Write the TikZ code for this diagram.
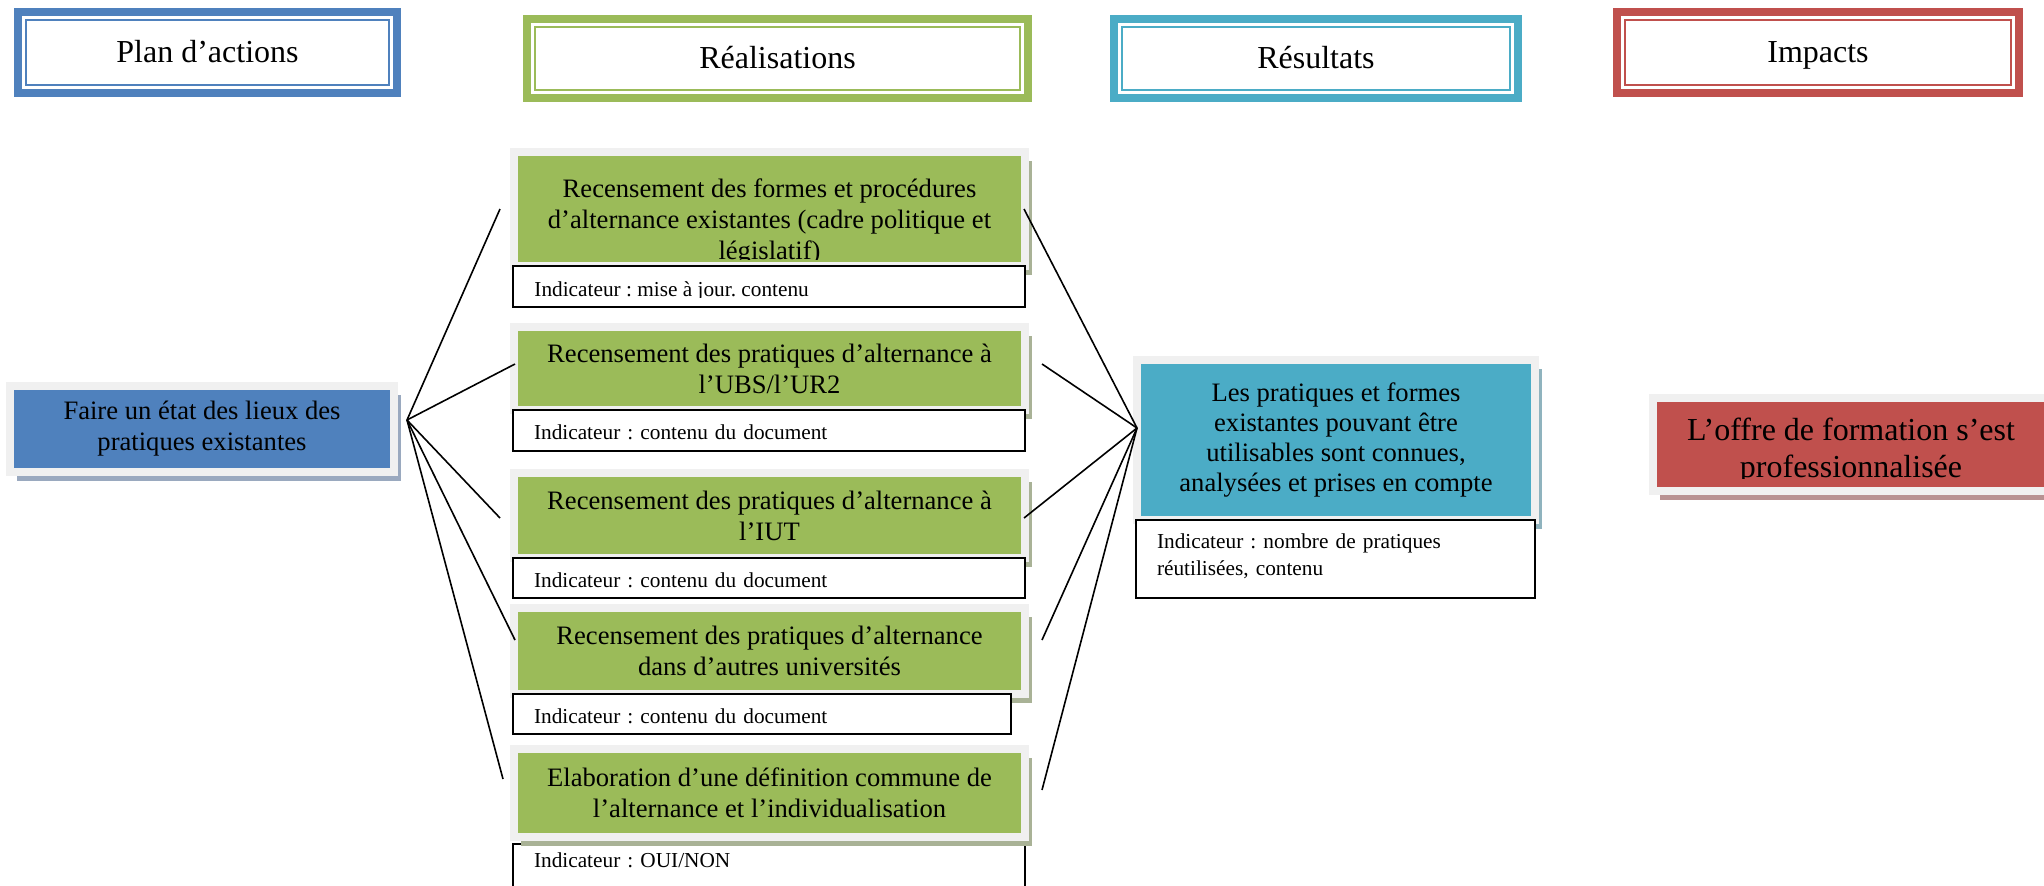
\documentclass[tikz,border=0pt]{standalone}
\usepackage{fontspec}
\setmainfont{Liberation Serif}
\usetikzlibrary{shadows}
\frenchspacing

% Office colours
\definecolor{planblue}{HTML}{4F81BD}
\definecolor{realgreen}{HTML}{9BBB59}
\definecolor{resultcyan}{HTML}{4BACC6}
\definecolor{impactred}{HTML}{C0504D}
\definecolor{framegray}{HTML}{F0F0F0}
\definecolor{shadowblue}{HTML}{9AA9BF}
\definecolor{shadowgreen}{HTML}{A9B296}
\definecolor{shadowcyan}{HTML}{8FB3BE}
\definecolor{shadowred}{HTML}{B89292}

\newcommand{\headfont}{\fontsize{16}{18.5}\selectfont}
\newcommand{\bodyfont}{\fontsize{13.3}{15.5}\selectfont}
\newcommand{\indfont}{\fontsize{10.65}{13.5}\selectfont}

\begin{document}
\begin{tikzpicture}[x=0.5pt, y=-0.5pt,
    headbox/.style={draw=#1, line width=1.25pt, fill=white, font=\headfont,
        inner sep=0pt, text height=11pt, text depth=1pt,
        preaction={draw=#1, line width=12pt},
        preaction={draw=white, line width=4pt}},
    colbox/.style 2 args={fill=#1, draw=framegray, line width=4pt,
        inner sep=0pt, align=center, font=\bodyfont,
        drop shadow={shadow xshift=3.5pt, shadow yshift=-4.5pt,
            fill=#2, opacity=1}},
    greenbox/.style={colbox={realgreen}{shadowgreen}, minimum width=255.5pt},
    indbox/.style={draw=black, line width=0.8pt, fill=white,
        anchor=north west, outer sep=0pt, inner xsep=10.5pt,
        inner ysep=0pt, align=left, font=\indfont, text height=14.5pt},
    fan/.style={line width=0.8pt}]

    \useasboundingbox (0,0) rectangle (2044,885);

    % Column headers
    \node[headbox=planblue, minimum width=181.5pt, minimum height=32.5pt] (plan) at (207.5,52.5) {Plan d’actions};
    \node[headbox=realgreen, minimum width=242.5pt, minimum height=31.5pt] (real) at (777.5,58.5) {Réalisations};
    \node[headbox=resultcyan, minimum width=194pt, minimum height=31.5pt] (result) at (1316,58.5) {Résultats};
    \node[headbox=impactred, minimum width=193pt, minimum height=32.5pt] (impact) at (1818,52.5) {Impacts};

    % Plan d'actions
    \node[colbox={planblue}{shadowblue}, minimum width=192pt, minimum height=43pt] (action) at (202,429)
        {Faire un état des lieux des\\pratiques existantes};

    % Realisations (the first text is too long, it is cut at the bottom)
    \node[greenbox, minimum height=57pt] (real1) at (769.5,209) {};
    \begin{scope}
        \clip (518,156) rectangle (1021,259);
        \node[anchor=north, inner sep=0pt, align=center, font=\bodyfont] (real1txt) at (769.5,178)
            {Recensement des formes et procédures\\d’alternance existantes (cadre politique et\\législatif)};
    \end{scope}
    \node[indbox, text width=235pt, text depth=6pt] (ind1) at (513,266) {};
    \begin{scope}
        \clip (513,266) rectangle (1025,297.5);
        \node[anchor=base west, inner sep=0pt, font=\indfont] (ind1txt) at (534,296) {Indicateur : mise à jour. contenu};
    \end{scope}

    \node[greenbox, minimum height=41.5pt] (real2) at (769.5,368.5)
        {Recensement des pratiques d’alternance à\\l’UBS/l’UR2};
    \node[indbox, text width=235pt, text depth=6pt] (ind2) at (513,410) {Indicateur : contenu du document};

    \node[greenbox, minimum height=42.5pt] (real3) at (769.5,515.5)
        {Recensement des pratiques d’alternance à\\l’IUT};
    \node[indbox, text width=235pt, text depth=5.5pt] (ind3) at (513,558) {Indicateur : contenu du document};

    \node[greenbox, minimum height=43pt] (real4) at (769.5,651)
        {Recensement des pratiques d’alternance\\dans d’autres universités};
    \node[indbox, text width=228pt, text depth=5.5pt] (ind4) at (513,694) {Indicateur : contenu du document};

    % last indicator runs off the page, under the shadow of its box
    \node[indbox, text width=235pt, text height=11.5pt, text depth=25pt] (ind5) at (513,844) {Indicateur : OUI/NON};
    \node[greenbox, minimum height=44pt] (real5) at (769.5,793)
        {Elaboration d’une définition commune de\\l’alternance et l’individualisation};

    % Resultats
    \node[colbox={resultcyan}{shadowcyan}, minimum width=199pt, minimum height=80pt,
        font=\fontsize{13.3}{15}\selectfont] (res) at (1336,440)
        {Les pratiques et formes\\existantes pouvant être\\utilisables sont connues,\\analysées et prises en compte};
    \node[indbox, text width=178.5pt, text height=14pt, text depth=25pt] (resind) at (1136,520)
        {Indicateur : nombre de pratiques\\réutilisées, contenu};

    % Impacts (cut at the bottom and at the right edge)
    \node[colbox={impactred}{shadowred}, minimum width=198pt, minimum height=46.5pt] (impactbox) at (1851,444.5) {};
    \begin{scope}
        \clip (1657,402) rectangle (2045,478);
        \node[anchor=north, inner sep=0pt, align=center, font=\headfont] (impacttxt) at (1851,418)
            {L’offre de formation s’est\\professionnalisée};
    \end{scope}

    % Lines fanning out on both sides of the realisations
    \coordinate (hubL) at (407,420);
    \coordinate (hubR) at (1137,428);
    \foreach \n/\lx/\ly/\rx/\ry in {1/500/209/1024/209, 2/515/364/1042/364,
        3/500/518/1024/518, 4/515/640/1042/640, 5/503/779/1042/790} {
        \coordinate (left\n) at (\lx,\ly);
        \coordinate (right\n) at (\rx,\ry);
        \draw[fan] (hubL) -- (left\n);
        \draw[fan] (right\n) -- (hubR);
    }
\end{tikzpicture}
\end{document}
